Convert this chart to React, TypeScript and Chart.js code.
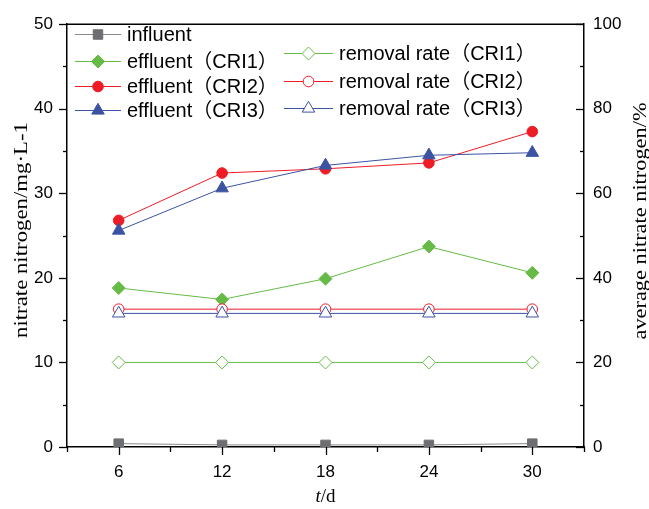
import React, { useEffect, useRef } from 'react';
import { Chart, registerables } from 'chart.js';
import { drawPoint } from 'chart.js/helpers';

Chart.register(...registerables);

const days = [6, 12, 18, 24, 30];
const xMinorTicks = [3, 9, 15, 21, 27, 33];
const leftMajorTicks = [0, 10, 20, 30, 40, 50];
const leftMinorTicks = [5, 15, 25, 35, 45];
const rightMajorTicks = [0, 20, 40, 60, 80, 100];
const rightMinorTicks = [10, 30, 50, 70, 90];

const influent = [0.4, 0.25, 0.25, 0.25, 0.4];
const effluentCRI1 = [18.8, 17.45, 19.9, 23.7, 20.6];
const effluentCRI2 = [26.8, 32.4, 32.9, 33.6, 37.3];
const effluentCRI3 = [25.6, 30.6, 33.3, 34.5, 34.8];
const removalCRI1 = [20, 20, 20, 20, 20];
const removalCRI2 = [32.6, 32.6, 32.6, 32.6, 32.6];
const removalCRI3 = [31.6, 31.6, 31.6, 31.6, 31.6];

const seriesLabels = [
  'influent',
  'effluent（CRI1）',
  'effluent（CRI2）',
  'effluent（CRI3）',
  'removal rate（CRI1）',
  'removal rate（CRI2）',
  'removal rate（CRI3）',
];

const xTitle = ['t', '/d'];
const leftTitle = 'nitrate nitrogen/mg·L-1';
const rightTitle = 'average nitrate nitrogen/%';

const GRAY_LINE = '#8a8a8a';
const GRAY = '#6d6e71';
const GREEN = '#66bb47';
const RED = '#ee1c25';
const BLUE = '#3c53a3';

const SANS = "'Liberation Sans', Arial, 'Noto Sans CJK SC', sans-serif";
const SERIF = "'Liberation Serif', 'Times New Roman', serif";

const pts = (arr: number[]) => arr.map((v, i) => ({ x: days[i], y: v }));

const legendLayout = [
  { ds: 0, lx: 75, rx: 121, tx: 127, y: 34 },
  { ds: 1, lx: 75, rx: 121, tx: 127, y: 61 },
  { ds: 2, lx: 75, rx: 121, tx: 127, y: 86 },
  { ds: 3, lx: 75, rx: 121, tx: 127, y: 110 },
  { ds: 4, lx: 284, rx: 333, tx: 339, y: 53 },
  { ds: 5, lx: 284, rx: 333, tx: 339, y: 81 },
  { ds: 6, lx: 284, rx: 333, tx: 339, y: 108 },
];

const decorPlugin = {
  id: 'decor',
  afterDraw(chart: any) {
    const ctx = chart.ctx as CanvasRenderingContext2D;
    const { left, right, top, bottom } = chart.chartArea;
    const xs = chart.scales.x;
    const ys = chart.scales.y;
    const y1 = chart.scales.y1;
    ctx.save();
    ctx.strokeStyle = '#000';
    ctx.lineWidth = 1.5;
    ctx.beginPath();
    ctx.moveTo(left, top);
    ctx.lineTo(right, top);
    ctx.stroke();
    ctx.lineWidth = 1.3;
    const tick = (x1: number, y1_: number, x2: number, y2: number) => {
      ctx.beginPath();
      ctx.moveTo(x1, y1_);
      ctx.lineTo(x2, y2);
      ctx.stroke();
    };
    days.forEach((v) => {
      const px = Math.round(xs.getPixelForValue(v)) + 0.5;
      tick(px, bottom, px, bottom + 8);
    });
    xMinorTicks.forEach((v) => {
      const px = Math.round(xs.getPixelForValue(v)) + 0.5;
      tick(px, bottom, px, bottom + 5);
    });
    leftMajorTicks.forEach((v) => {
      const py = Math.round(ys.getPixelForValue(v)) + 0.5;
      tick(left, py, left - 8, py);
    });
    leftMinorTicks.forEach((v) => {
      const py = Math.round(ys.getPixelForValue(v)) + 0.5;
      tick(left, py, left - 4, py);
    });
    rightMajorTicks.forEach((v) => {
      const py = Math.round(y1.getPixelForValue(v)) + 0.5;
      tick(right, py, right - 8, py);
    });
    rightMinorTicks.forEach((v) => {
      const py = Math.round(y1.getPixelForValue(v)) + 0.5;
      tick(right, py, right - 4, py);
    });

    ctx.fillStyle = '#000';
    ctx.textBaseline = 'middle';
    ctx.textAlign = 'center';
    const drawRotated = (text: string, cx: number, cy: number, target: number) => {
      ctx.save();
      ctx.translate(cx, cy);
      ctx.rotate(-Math.PI / 2);
      ctx.font = `18px ${SERIF}`;
      const w = ctx.measureText(text).width;
      ctx.scale(target / w, 1);
      ctx.fillText(text, 0, 0);
      ctx.restore();
    };
    drawRotated(leftTitle, 22, 230, 216);
    drawRotated(rightTitle, 641, 221, 237);

    ctx.textAlign = 'left';
    ctx.font = `italic 19px ${SERIF}`;
    const w1 = ctx.measureText(xTitle[0]).width;
    ctx.font = `19px ${SERIF}`;
    const w2 = ctx.measureText(xTitle[1]).width;
    const cx = (left + right) / 2;
    const sx = cx - (w1 + w2) / 2;
    ctx.font = `italic 19px ${SERIF}`;
    ctx.fillText(xTitle[0], sx, 497);
    ctx.font = `19px ${SERIF}`;
    ctx.fillText(xTitle[1], sx + w1, 497);

    legendLayout.forEach((it) => {
      const ds = chart.data.datasets[it.ds];
      ctx.strokeStyle = ds.borderColor;
      ctx.lineWidth = 1;
      ctx.beginPath();
      ctx.moveTo(it.lx, it.y + 0.5);
      ctx.lineTo(it.rx, it.y + 0.5);
      ctx.stroke();
      ctx.fillStyle = ds.pointBackgroundColor;
      ctx.strokeStyle = ds.pointBorderColor;
      ctx.lineWidth = ds.pointBorderWidth;
      drawPoint(ctx, {
        pointStyle: ds.pointStyle,
        rotation: 0,
        radius: ds.pointRadius,
        borderWidth: ds.pointBorderWidth,
      } as any, (it.lx + it.rx) / 2, it.y + 0.5);
      ctx.fillStyle = '#000';
      ctx.font = `20px ${SANS}`;
      ctx.textAlign = 'left';
      ctx.textBaseline = 'middle';
      ctx.fillText(seriesLabels[it.ds], it.tx, it.y + 1);
    });
    ctx.restore();
  },
};

export default function App() {
  const ref = useRef<HTMLCanvasElement | null>(null);
  useEffect(() => {
    if (!ref.current) return;
    const mk = (
      idx: number,
      data: number[],
      axis: string,
      line: string,
      style: string,
      radius: number,
      fill: string,
      border: string
    ) => ({
      label: seriesLabels[idx],
      data: pts(data),
      yAxisID: axis,
      order: 10 - idx,
      borderColor: line,
      borderWidth: 1,
      pointStyle: style,
      pointRadius: radius,
      pointBackgroundColor: fill,
      pointBorderColor: border,
      pointBorderWidth: 1,
      fill: false,
      tension: 0,
    });
    const chart = new Chart(ref.current, {
      type: 'line',
      data: {
        datasets: [
          mk(0, influent, 'y', GRAY_LINE, 'rect', 6.7, GRAY, GRAY),
          mk(1, effluentCRI1, 'y', GREEN, 'rectRot', 6.5, GREEN, GREEN),
          mk(2, effluentCRI2, 'y', RED, 'circle', 5.3, RED, RED),
          mk(3, effluentCRI3, 'y', BLUE, 'triangle', 7.2, BLUE, BLUE),
          mk(4, removalCRI1, 'y1', GREEN, 'rectRot', 6.5, '#ffffff', GREEN),
          mk(5, removalCRI2, 'y1', RED, 'circle', 5.3, '#ffffff', RED),
          mk(6, removalCRI3, 'y1', BLUE, 'triangle', 7.2, '#ffffff', BLUE),
        ] as any,
      },
      options: {
        animation: false,
        responsive: false,
        devicePixelRatio: 1,
        layout: { padding: { top: 21, left: 0, right: 0, bottom: 0 } },
        plugins: { legend: { display: false }, tooltip: { enabled: false } },
        scales: {
          x: {
            type: 'linear',
            position: 'bottom',
            min: 3,
            max: 33,
            afterBuildTicks: (scale: any) => {
              scale.ticks = days.map((v) => ({ value: v }));
            },
            afterFit: (scale: any) => {
              scale.height = 62;
            },
            grid: { display: false, drawTicks: false },
            border: { display: true, color: '#000', width: 1.5 },
            ticks: {
              padding: 15,
              color: '#000',
              font: { family: SANS, size: 17 },
              maxRotation: 0,
            },
          },
          y: {
            position: 'left',
            min: 0,
            max: 50,
            afterBuildTicks: (scale: any) => {
              scale.ticks = leftMajorTicks.map((v) => ({ value: v }));
            },
            afterFit: (scale: any) => {
              scale.width = 67;
            },
            grid: { display: false, drawTicks: false },
            border: { display: true, color: '#000', width: 1.5 },
            ticks: { padding: 14, color: '#000', font: { family: SANS, size: 17 } },
          },
          y1: {
            position: 'right',
            min: 0,
            max: 100,
            afterBuildTicks: (scale: any) => {
              scale.ticks = rightMajorTicks.map((v) => ({ value: v }));
            },
            afterFit: (scale: any) => {
              scale.width = 65;
            },
            grid: { display: false, drawTicks: false },
            border: { display: true, color: '#000', width: 1.5 },
            ticks: { padding: 9, color: '#000', font: { family: SANS, size: 17 } },
          },
        },
      } as any,
      plugins: [decorPlugin],
    });
    return () => chart.destroy();
  }, []);
  return (
    <div style={{ position: 'absolute', left: 0, top: 0, width: 649, height: 509, background: '#fff' }}>
      <canvas ref={ref} width={649} height={509} />
    </div>
  );
}
